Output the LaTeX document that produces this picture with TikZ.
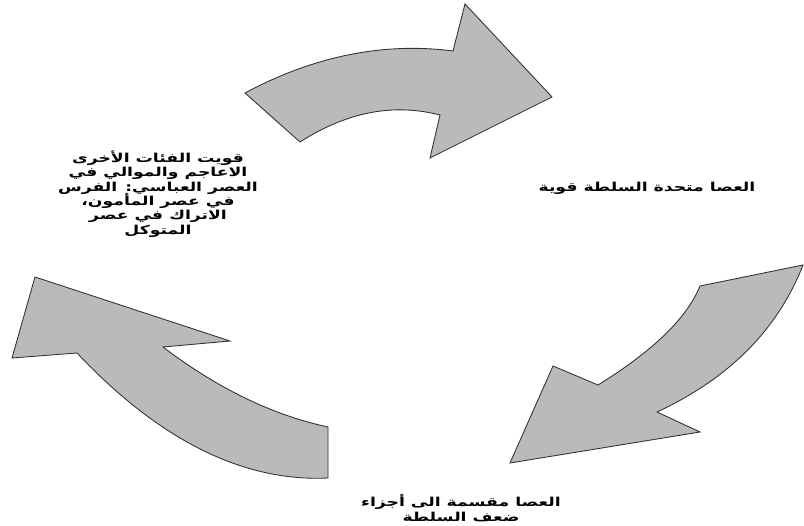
\documentclass[tikz,border=0pt]{standalone}
\usepackage{fontspec}
\newfontfamily\arabicfont[Script=Arabic, FakeStretch=1.4]{DejaVu Sans}
\TeXXeTstate=1
\newcommand\tightlines{\lineskiplimit=-6pt\relax\lineskip=0pt\relax}
\begin{document}
\begin{tikzpicture}[x=0.02cm, y=-0.02cm,
	bigarrow/.style={draw=black!80, fill=black!27, line width=0.5pt, line join=miter},
	cyclelabel/.style={font={\arabicfont\bfseries\fontsize{7}{8.2}\selectfont\tightlines}, align=center, inner sep=1pt}]
	\useasboundingbox (0,0) rectangle (804,526);
	
	% top arrow
	\draw[bigarrow] (245,93) -- (300,142) .. controls (347,112) and (393,103) .. (440,115)
		-- (430,158) -- (552,97) -- (465,4) -- (453,51)
		.. controls (384,42) and (314,56) .. (245,93) -- cycle;
	% right arrow
	\draw[bigarrow] (700,286) -- (803,265) .. controls (778,329) and (730,378) .. (657,412)
		-- (700,432) -- (510,463) -- (553,366) -- (598,385)
		.. controls (653,351) and (687,318) .. (700,286) -- cycle;
	% left arrow
	\draw[bigarrow] (328,478) -- (328,427) .. controls (272,415) and (217,388) .. (163,347)
		-- (230,341) -- (35,277) -- (12,358) -- (77,353)
		.. controls (160,441) and (244,482) .. (328,478) -- cycle;
	
	\node[cyclelabel] (strong) at (647,188) {\beginR العصا متحدة السلطة قوية\endR};
	\node[cyclelabel] (weak) at (461,508) {\beginR العصا مقسمة الى أجزاء\endR\\ \beginR ضعف السلطة\endR};
	\node[cyclelabel] (others) at (158,194) {\beginR قويت الفئات الأخرى\endR\\ \beginR الاعاجم والموالي في\endR\\ \beginR العصر العباسي: الفرس\endR\\ \beginR في عصر المأمون،\endR\\ \beginR الاتراك في عصر\endR\\ \beginR المتوكل\endR};
	
\end{tikzpicture}
\end{document}
